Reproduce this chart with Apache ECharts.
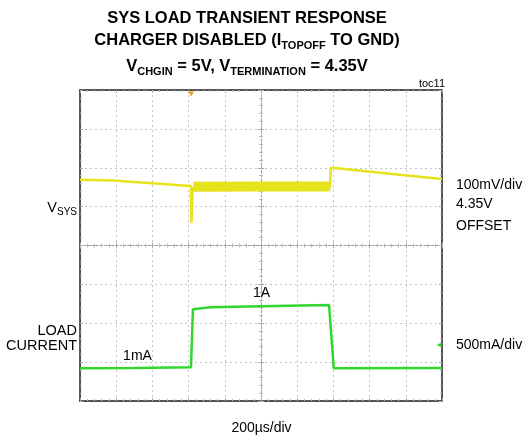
<!DOCTYPE html>
<html><head><meta charset="utf-8">
<script src="https://cdn.jsdelivr.net/npm/echarts@6/dist/echarts.min.js"></script>
<style>html,body{margin:0;padding:0;background:#fff}#c{width:524px;height:438px}</style>
</head><body><div id="c"></div>
<script>
// ---- data (x in divisions of 200us, y in screen divisions from bottom) ----
const xRange = [0, 10];
const yRange = [0, 8];
const vsysTrace = [[0,5.69],[0.9,5.67],[2.0,5.6],[3.06,5.53],[3.08,4.58],[3.11,5.48],[3.13,5.5],[6.9,5.5],[6.93,6.0],[6.97,6.03],[7.1,5.99],[8.29,5.87],[10,5.71]];
const vsysNoiseBand = [[3.13,5.51],[5.0,5.52],[6.91,5.52]];
const loadTrace = [[0,0.84],[1.5,0.85],[3.065,0.87],[3.12,2.36],[3.6,2.41],[5,2.44],[6.88,2.47],[6.92,2.47],[7.01,0.84],[10,0.85]];
const titleLines = [
  'SYS LOAD TRANSIENT RESPONSE',
  '{m|CHARGER DISABLED (I}{s|TOPOFF}{m| TO GND)}',
  '{m|V}{s|CHGIN}{m| = 5V, V}{s|TERMINATION}{m| = 4.35V}'
];
const leftLabels = ['{m|V}{s|SYS}', 'LOAD', 'CURRENT'];
const rightLabels = ['100mV/div', '4.35V', 'OFFSET', '500mA/div'];
const xScaleLabel = '200µs/div';
const traceNotes = ['1A', '1mA'];
const figId = 'toc11';

const FONT = '"Liberation Sans", Arial, sans-serif';
const YEL = '#e6e21c', GRN = '#2fd82f';
const G = {left: 80, top: 90, width: 362, height: 311};

function ax(kind, pos, offset, opts) {
  return Object.assign({
    type: 'value', min: kind==='x'?xRange[0]:yRange[0], max: kind==='x'?xRange[1]:yRange[1], interval: 1,
    position: pos, offset: offset || 0,
    axisLabel: {show: false},
    axisLine: {show: true, onZero: false, lineStyle: {color: '#222', width: 1.5}},
    axisTick: {show: true, inside: true, length: 3, lineStyle: {color: '#aaa'}},
    minorTick: {show: true, splitNumber: 5, length: 2, lineStyle: {color: '#bbb'}},
    splitLine: {show: false}
  }, opts || {});
}
const centerLine = {show: true, onZero: false, lineStyle: {color: '#999', width: 1, type: [2, 2]}};
const grid = {type: [2, 3], color: '#c4c4c4', width: 1};

const option = {
  animation: false,
  backgroundColor: '#fff',
  grid: Object.assign({containLabel: false}, G),
  xAxis: [
    ax('x', 'bottom', 0, {splitLine: {show: true, lineStyle: grid}}),
    ax('x', 'top', 0),
    ax('x', 'bottom', -G.height/2, {axisLine: centerLine}),
    ax('x', 'top', -G.height/2, {axisLine: {show: false}})
  ],
  yAxis: [
    ax('y', 'left', 0, {splitLine: {show: true, lineStyle: grid}}),
    ax('y', 'right', 0),
    ax('y', 'left', -G.width/2, {axisLine: centerLine}),
    ax('y', 'right', -G.width/2, {axisLine: {show: false}})
  ],
  series: [
    {type: 'line', data: vsysTrace, symbol: 'none', lineStyle: {color: YEL, width: 2.5}, z: 5,
     markPoint: {symbol: 'triangle', symbolSize: [6,5], symbolRotate: 180, symbolOffset: [0, 4],
       itemStyle: {color: '#e8a020'}, label: {show: false}, data: [{coord: [3.07, 8]}]}},
    {type: 'line', data: vsysNoiseBand, symbol: 'none', lineStyle: {color: YEL, width: 10, cap: 'butt'}, z: 4},
    {type: 'line', data: loadTrace, symbol: 'none', lineStyle: {color: GRN, width: 2.5}, z: 5,
     markPoint: {symbol: 'triangle', symbolSize: [5,5], symbolRotate: 90, symbolOffset: [-3, 0],
       itemStyle: {color: GRN}, label: {show: false}, data: [{coord: [10, 1.44]}]}}
  ],
  graphic: []
};

function txt(x, y, text, align, size, bold, rich) {
  return {type: 'text', x: x, y: y, silent: true, z: 100,
    style: {text: text, align: align, verticalAlign: 'middle', fill: '#000',
      font: (bold?'bold ':'') + size + 'px ' + FONT, rich: rich}};
}
const t2rich = {m: {fontSize: 16.5, fontWeight: 'bold', fontFamily: FONT, lineHeight: 22},
                s: {fontSize: 11, fontWeight: 'bold', fontFamily: FONT, lineHeight: 9, verticalAlign: 'bottom'}};
const t3rich = {m: {fontSize: 16.5, fontWeight: 'bold', fontFamily: FONT, lineHeight: 22},
                s: {fontSize: 11, fontWeight: 'bold', fontFamily: FONT, lineHeight: 13, verticalAlign: 'bottom'}};
option.graphic.push(txt(247, 18, titleLines[0], 'center', 16.5, true));
option.graphic.push(txt(247, 40, titleLines[1], 'center', 16.5, true, t2rich));
option.graphic.push(txt(247, 66.5, titleLines[2], 'center', 16.5, true, t3rich));
option.graphic.push(txt(445, 84, figId, 'right', 11, false));
option.graphic.push(txt(77, 208, leftLabels[0], 'right', 14, false,
  {m: {fontSize: 14.5, fontFamily: FONT, lineHeight: 18}, s: {fontSize: 10, fontFamily: FONT, lineHeight: 12, verticalAlign: 'bottom'}}));
option.graphic.push(txt(77, 331, leftLabels[1], 'right', 14.5, false));
option.graphic.push(txt(77, 345.5, leftLabels[2], 'right', 14.5, false));
option.graphic.push(txt(456, 185, rightLabels[0], 'left', 14, false));
option.graphic.push(txt(456, 204.5, rightLabels[1], 'left', 14, false));
option.graphic.push(txt(456, 226, rightLabels[2], 'left', 14, false));
option.graphic.push(txt(456, 345.5, rightLabels[3], 'left', 14, false));
option.graphic.push(txt(261.5, 428, xScaleLabel, 'center', 14, false));
option.graphic.push(txt(261.5, 293.5, traceNotes[0], 'center', 14, false));
option.graphic.push(txt(137.5, 356, traceNotes[1], 'center', 14, false));

const chart = echarts.init(document.getElementById('c'), null, {renderer: 'canvas'});
chart.setOption(option);
</script></body></html>
